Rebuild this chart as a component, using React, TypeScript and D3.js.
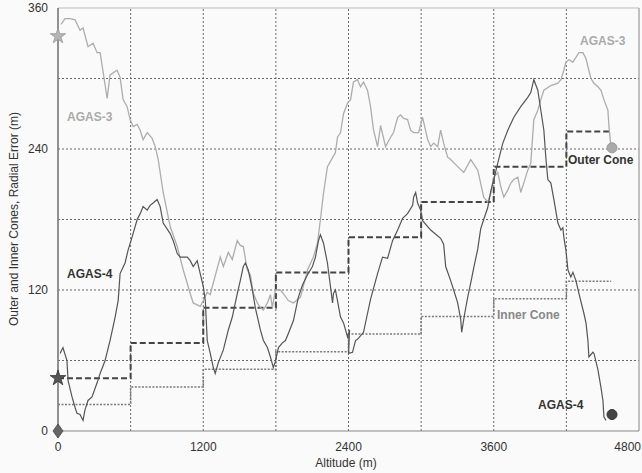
import React from 'react';
import * as d3 from 'd3';

const W = 642;
const H = 473;

const xTicks = [0, 1200, 2400, 3600, 4800];
const yTicks = [0, 120, 240, 360];
const xGrid = [600, 1200, 1800, 2400, 3000, 3600, 4200];
const yGrid = [60, 120, 180, 240, 300];

const coneSteps = [0, 600, 1200, 1800, 2400, 3000, 3600, 4200];
const outerCone = [45, 75, 105, 135, 165, 195, 225, 255];
const innerCone = [22.5, 37.5, 52.5, 67.5, 82.5, 97.5, 112.5, 127.5];
const coneEnd = 4570;

const agas3: [number, number][] = [
  [25,346],[58,351],[99,351],[141,350],[182,341],[207,343],[248,327],[290,330],[323,322],[348,322],
  [372,306],[406,283],[430,303],[488,307],[513,301],[538,282],[571,276],[596,265],[621,259],[654,261],
  [679,256],[703,248],[737,254],[778,249],[803,242],[828,231],[869,203],[927,174],[985,157],[1035,137],
  [1092,117],[1117,109],[1175,106],[1200,111],[1233,118],[1258,116],[1283,126],[1341,148],[1366,140],[1407,152],
  [1440,146],[1481,162],[1506,158],[1531,157],[1564,137],[1589,133],[1614,117],[1647,109],[1672,105],[1697,103],
  [1730,109],[1755,116],[1771,105],[1796,120],[1837,120],[1862,117],[1903,111],[1945,109],[2003,114],[2061,137],
  [2110,148],[2144,160],[2168,180],[2193,202],[2226,225],[2292,237],[2309,250],[2334,254],[2359,270],[2392,279],
  [2417,282],[2441,297],[2474,299],[2499,293],[2524,297],[2557,290],[2582,276],[2607,256],[2640,242],[2665,260],
  [2706,242],[2748,250],[2772,254],[2806,267],[2830,269],[2855,266],[2888,265],[2913,256],[2938,254],[2979,254],
  [3012,267],[3054,248],[3079,242],[3104,245],[3137,242],[3161,256],[3186,245],[3219,233],[3244,231],[3302,225],
  [3352,220],[3410,231],[3468,222],[3517,199],[3550,195],[3575,202],[3600,216],[3633,220],[3658,208],[3683,199],
  [3716,205],[3741,211],[3766,214],[3799,216],[3823,203],[3848,211],[3881,222],[3906,228],[3931,265],[3964,273],
  [3989,282],[4014,290],[4072,294],[4130,296],[4155,299],[4179,307],[4196,314],[4221,316],[4254,314],[4279,318],
  [4304,322],[4337,322],[4362,317],[4378,310],[4403,300],[4428,296],[4461,293],[4486,290],[4510,282],[4543,273],
  [4552,259],[4568,242]
];

const agas4: [number, number][] = [
  [17,66],[41,71],[74,60],[83,43],[116,29],[141,20],[157,15],[182,14],[207,9],[223,18],
  [248,26],[281,29],[323,41],[348,49],[389,60],[430,77],[472,97],[497,111],[513,134],[554,143],
  [579,154],[612,165],[654,180],[679,185],[703,191],[737,188],[761,192],[786,194],[819,197],[844,191],
  [869,177],[927,168],[952,162],[985,151],[1010,148],[1068,148],[1092,145],[1117,140],[1150,145],[1175,134],
  [1200,123],[1217,111],[1233,77],[1258,66],[1283,54],[1299,49],[1324,58],[1366,69],[1407,86],[1440,97],
  [1481,117],[1506,128],[1531,140],[1548,143],[1572,137],[1606,120],[1630,105],[1672,86],[1697,77],[1730,71],
  [1755,63],[1779,54],[1796,59],[1821,71],[1854,75],[1879,77],[1903,83],[1945,94],[1986,114],[2019,124],
  [2061,133],[2102,140],[2127,148],[2152,162],[2168,167],[2193,160],[2226,143],[2251,123],[2268,109],[2276,117],
  [2292,120],[2309,111],[2334,97],[2359,92],[2392,80],[2409,86],[2400,66],[2433,67],[2458,77],[2474,78],
  [2524,84],[2557,100],[2582,112],[2640,134],[2681,148],[2723,147],[2764,162],[2806,171],[2847,181],[2888,185],
  [2930,192],[2938,199],[2955,203],[2971,194],[2996,188],[3012,179],[3079,171],[3161,164],[3186,159],[3203,140],
  [3244,128],[3269,120],[3302,109],[3327,95],[3335,84],[3360,100],[3385,114],[3410,126],[3435,139],[3468,155],
  [3492,172],[3517,180],[3550,190],[3575,204],[3600,214],[3633,228],[3675,245],[3716,256],[3766,267],[3823,276],
  [3881,284],[3906,288],[3931,299],[3964,290],[3989,273],[4014,256],[4030,233],[4047,214],[4072,211],[4097,197],
  [4130,177],[4155,171],[4171,173],[4179,165],[4196,154],[4213,137],[4237,131],[4254,135],[4279,128],[4304,117],
  [4345,100],[4362,92],[4378,77],[4386,63],[4419,67],[4428,66],[4461,52],[4486,37],[4502,26],[4510,12],
  [4527,9]
];

const agas3Start: [number, number] = [0, 336];
const agas4Start: [number, number] = [0, 45];
const originMark: [number, number] = [0, 0];
const agas3End: [number, number] = [4577, 241];
const agas4End: [number, number] = [4577, 14];

const FONT = '"Liberation Sans", Arial, sans-serif';

export default function App() {
  const x = d3.scaleLinear().domain([0, 4800]).range([58, 639]);
  const y = d3.scaleLinear().domain([0, 360]).range([431, 8]);

  const line = d3.line<[number, number]>().x(d => x(d[0])).y(d => y(d[1]));
  const coneLine = d3.line<[number, number]>().x(d => x(d[0])).y(d => y(d[1])).curve(d3.curveStepAfter);

  const conePts = (vals: number[]): [number, number][] => {
    const pts: [number, number][] = coneSteps.map((s, i) => [s, vals[i]]);
    pts.push([coneEnd, vals[vals.length - 1]]);
    return pts;
  };

  const star = d3.symbol().type(d3.symbolStar).size(75)();

  const diamond = (px: number, py: number) =>
    `M${px},${py - 7}L${px + 5},${py}L${px},${py + 7}L${px - 5},${py}Z`;

  const gridColor = '#666';

  return (
    <svg width={W} height={H} style={{ position: 'absolute', left: 0, top: 0, background: '#fafafa' }}
      fontFamily={FONT}>
      <rect x={0} y={0} width={W} height={H} fill="#fafafa" />
      {yGrid.map(v => (
        <line key={'yg' + v} x1={x(0)} x2={x(4800)} y1={y(v)} y2={y(v)} stroke={gridColor}
          strokeWidth={1} strokeDasharray="2,2" />
      ))}
      {xGrid.map(v => (
        <line key={'xg' + v} x1={x(v)} x2={x(v)} y1={y(0)} y2={y(360)} stroke={gridColor}
          strokeWidth={1} strokeDasharray="2,2" />
      ))}
      <line x1={x(0)} x2={x(4800)} y1={y(360)} y2={y(360)} stroke="#bbb" strokeWidth={1} />
      <line x1={x(4800)} x2={x(4800)} y1={y(0)} y2={y(360)} stroke="#999" strokeWidth={1.2} />
      <line x1={x(0)} x2={x(4800)} y1={y(0)} y2={y(0)} stroke="#888" strokeWidth={1.2} />
      <line x1={x(0)} x2={x(0)} y1={y(0)} y2={y(360)} stroke="#777" strokeWidth={1.6} />

      <path d={coneLine(conePts(innerCone)) || ''} fill="none" stroke="#7a7a7a" strokeWidth={1.6}
        strokeDasharray="2,1.5" />
      <path d={coneLine(conePts(outerCone)) || ''} fill="none" stroke="#444" strokeWidth={2}
        strokeDasharray="6,3" />

      <path d={line(agas3) || ''} fill="none" stroke="#adadad" strokeWidth={1.3} />
      <path d={line(agas4) || ''} fill="none" stroke="#555" strokeWidth={1.2} />

      <path d={star || ''} transform={`translate(${x(agas3Start[0])},${y(agas3Start[1])})`}
        fill="#b5b5b5" stroke="#999" strokeWidth={0.8} />
      <path d={star || ''} transform={`translate(${x(agas4Start[0])},${y(agas4Start[1])})`}
        fill="#555" stroke="#333" strokeWidth={0.8} />
      <path d={diamond(x(originMark[0]), y(originMark[1]))} fill="#666" stroke="#444" strokeWidth={0.8} />
      <circle cx={x(agas3End[0])} cy={y(agas3End[1])} r={5} fill="#aaa" stroke="#999" />
      <circle cx={x(agas4End[0])} cy={y(agas4End[1])} r={5} fill="#444" stroke="#333" />

      {yTicks.map(v => (
        <text key={'yt' + v} x={48} y={y(v)} dy="0.35em" textAnchor="end" fontSize={12} fill="#333">{v}</text>
      ))}
      {xTicks.map(v => (
        <text key={'xt' + v} x={v === 4800 ? 641 : x(v)} y={447} dy="0.35em"
          textAnchor={v === 4800 ? 'end' : 'middle'} fontSize={12} fill="#333">{v}</text>
      ))}

      <text x={346} y={463} dy="0.35em" textAnchor="middle" fontSize={12} fill="#333">Altitude (m)</text>
      <text transform={`translate(14,219) rotate(-90)`} dy="0.35em" textAnchor="middle" fontSize={12}
        fill="#333">Outer and Inner Cones, Radial Error (m)</text>

      <text x={67} y={117} dy="0.35em" fontSize={12} fontWeight="bold" fill="#aaa">AGAS-3</text>
      <text x={580} y={41} dy="0.35em" fontSize={12} fontWeight="bold" fill="#aaa">AGAS-3</text>
      <text x={67} y={274} dy="0.35em" fontSize={12} fontWeight="bold" fill="#333">AGAS-4</text>
      <text x={538} y={405} dy="0.35em" fontSize={12} fontWeight="bold" fill="#333">AGAS-4</text>
      <text x={568} y={160} dy="0.35em" fontSize={12} fontWeight="bold" fill="#333">Outer Cone</text>
      <text x={497} y={315} dy="0.35em" fontSize={12} fontWeight="bold" fill="#888">Inner Cone</text>
    </svg>
  );
}
